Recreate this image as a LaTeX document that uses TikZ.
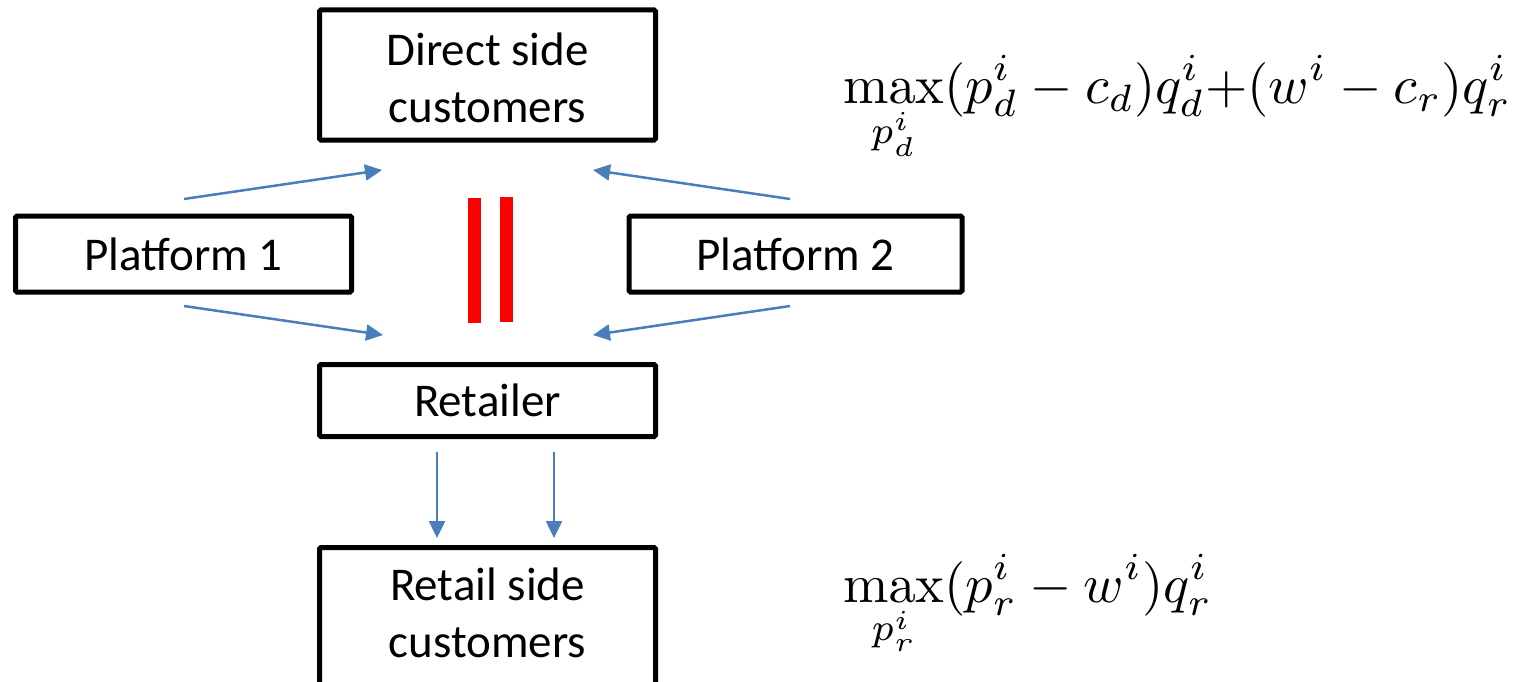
\documentclass[tikz,border=0pt]{standalone}
\usepackage{amsmath}
\usepackage[no-math]{fontspec}
\setmainfont{Carlito}
\usetikzlibrary{arrows.meta}
\definecolor{flowblue}{HTML}{4A7EBB}
\tikzset{
  box/.style={draw=black, line width=5pt, rounded corners=1.5pt, inner sep=0pt,
    align=center, font=\fontsize{47}{57}\selectfont, text=black},
  label/.style={align=center, font=\fontsize{47}{57}\selectfont, anchor=base, inner sep=0pt},
  flow/.style={draw=flowblue, line width=2.5pt,
    -{Triangle[length=17pt,width=16pt]}},
  bar/.style={fill=red, draw=none},
  formula/.style={anchor=base west, inner sep=0pt, scale=5.45}
}
\begin{document}
\begin{tikzpicture}[x=1pt, y=-1pt]
  \useasboundingbox (0,0) rectangle (1522,682);
  \clip (0,0) rectangle (1522,682);

  % boxes
  \node[box, minimum width=336pt, minimum height=130pt] (direct) at (487.5,75) {};
  \node[label] (directtext) at (487.5,122) {Direct side\\customers};
  \node[box, minimum width=336pt, minimum height=76pt] (p1) at (183.5,254) {Platform 1};
  \node[box, minimum width=333pt, minimum height=76pt] (p2) at (795.5,254) {Platform 2};
  \node[box, minimum width=336pt, minimum height=72pt] (ret) at (487.5,400.5) {Retailer};
  \node[box, minimum width=336pt, minimum height=150pt] (rside) at (487.5,622.5) {};
  \node[label] (rsidetext) at (487.5,657) {Retail side\\customers};

  % separator between the two platforms
  \fill[bar] (468,198) rectangle (481,323);
  \fill[bar] (500,197) rectangle (513,322);

  % arrow end points
  \coordinate (s1) at (184,199);
  \coordinate (t1) at (382,170);
  \coordinate (s2) at (790,199);
  \coordinate (t2) at (593,170);
  \coordinate (s3) at (184,306);
  \coordinate (t3) at (383,335);
  \coordinate (s4) at (790,306);
  \coordinate (t4) at (593,335);
  \coordinate (s5) at (437,452);
  \coordinate (t5) at (437,538);
  \coordinate (s6) at (554,452);
  \coordinate (t6) at (554,538);

  \draw[flow] (s1) -- (t1);
  \draw[flow] (s2) -- (t2);
  \draw[flow] (s3) -- (t3);
  \draw[flow] (s4) -- (t4);
  \draw[flow] (s5) -- (t5);
  \draw[flow] (s6) -- (t6);

  % objective functions
  \node[formula] (objd) at (842,103)
    {$\displaystyle\max_{p_d^i}(p_d^i - c_d)q_d^i{+}(w^i - c_r)q_r^i$};
  \node[formula] (objr) at (842,602)
    {$\displaystyle\max_{p_r^i}(p_r^i - w^i)q_r^i$};
\end{tikzpicture}
\end{document}
